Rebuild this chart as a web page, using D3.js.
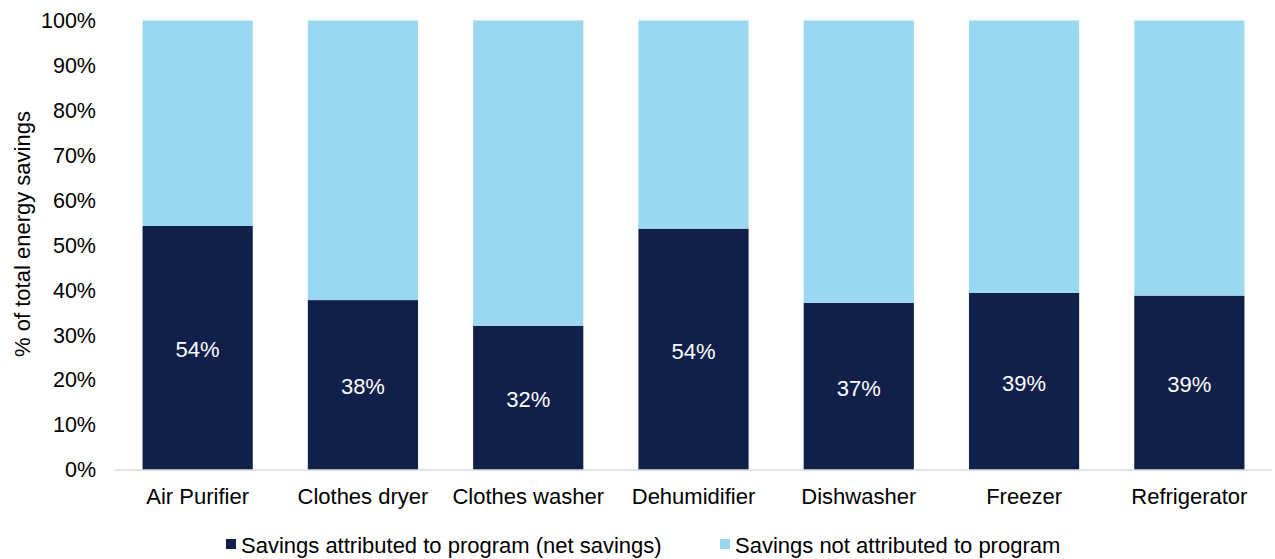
<!DOCTYPE html>
<html>
<head>
<meta charset="utf-8">
<script src="https://cdn.jsdelivr.net/npm/d3@7"></script>
<style>
  html, body { margin: 0; padding: 0; background: #ffffff; }
  svg { display: block; font-family: "Liberation Sans", Arial, sans-serif; }
</style>
</head>
<body>
<svg id="chart" width="1275" height="559"></svg>
<script>
// Share of total energy savings by product type
const categories = ["Air Purifier", "Clothes dryer", "Clothes washer", "Dehumidifier", "Dishwasher", "Freezer", "Refrigerator"];
const netSavings = [0.543, 0.378, 0.321, 0.537, 0.372, 0.394, 0.388];
const seriesNames = ["Savings attributed to program (net savings)", "Savings not attributed to program"];
const yTicks = [0, 0.1, 0.2, 0.3, 0.4, 0.5, 0.6, 0.7, 0.8, 0.9, 1.0];

const colors = { net: "#11204b", other: "#99d8f0" };

const svg = d3.select("#chart");
const margin = { left: 115, right: 3, top: 20.5, bottom: 89 };
const W = 1275, H = 559;
const FONT = "Liberation Sans, Arial, sans-serif";

const x = d3.scaleBand()
  .domain(categories)
  .range([margin.left, W - margin.right])
  .paddingInner(1 / 3)
  .paddingOuter(1 / 6);

const y = d3.scaleLinear()
  .domain([0, 1])
  .range([H - margin.bottom, margin.top]);

const rows = categories.map((c, i) => ({ cat: c, net: netSavings[i], other: 1 - netSavings[i] }));
const stacked = d3.stack().keys(["net", "other"])(rows);

// stacked bars
svg.append("g").selectAll("g")
  .data(stacked)
  .join("g")
  .attr("fill", d => colors[d.key])
  .selectAll("rect")
  .data(d => d)
  .join("rect")
  .attr("x", d => x(d.data.cat))
  .attr("width", x.bandwidth())
  .attr("y", d => y(d[1]))
  .attr("height", d => y(d[0]) - y(d[1]));

// value labels centred in the net-savings segment
svg.append("g").selectAll("text")
  .data(rows)
  .join("text")
  .attr("x", d => x(d.cat) + x.bandwidth() / 2)
  .attr("y", d => y(d.net / 2))
  .attr("dy", "0.42em")
  .attr("text-anchor", "middle")
  .attr("fill", "#ffffff")
  .attr("font-size", 22)
  .text(d => d3.format(".0%")(d.net));

// x axis baseline and category labels
const xAxis = svg.append("g")
  .attr("transform", `translate(0,${y(0)})`)
  .call(d3.axisBottom(x).tickSize(0).tickPadding(18.5));
xAxis.select(".domain").attr("stroke", "#d9d9d9").attr("stroke-width", 1.5)
  .attr("d", `M${margin.left},0H${W - margin.right}`);
xAxis.selectAll("text").attr("font-size", 22).attr("fill", "#000000")
  .attr("font-family", FONT);

// y axis tick labels
const yAxis = svg.append("g")
  .attr("transform", `translate(${margin.left},0)`)
  .call(d3.axisLeft(y).tickValues(yTicks).tickFormat(d3.format(".0%")).tickSize(0).tickPadding(19));
yAxis.select(".domain").remove();
yAxis.selectAll("text").attr("font-size", 21.5).attr("fill", "#000000")
  .attr("font-family", FONT);

// y axis title
svg.append("text")
  .attr("transform", `translate(30,234) rotate(-90)`)
  .attr("text-anchor", "middle")
  .attr("font-size", 22)
  .attr("fill", "#000000")
  .text("% of total energy savings");

// legend
const legendItems = [
  { name: seriesNames[0], color: colors.net, x: 226 },
  { name: seriesNames[1], color: colors.other, x: 720 }
];
const lg = svg.append("g").selectAll("g")
  .data(legendItems)
  .join("g")
  .attr("transform", d => `translate(${d.x},539)`);
lg.append("rect").attr("width", 10).attr("height", 10).attr("fill", d => d.color);
lg.append("text")
  .attr("x", 15)
  .attr("y", 5)
  .attr("dy", "0.4em")
  .attr("font-size", 22)
  .attr("fill", "#000000")
  .text(d => d.name);
</script>
</body>
</html>
